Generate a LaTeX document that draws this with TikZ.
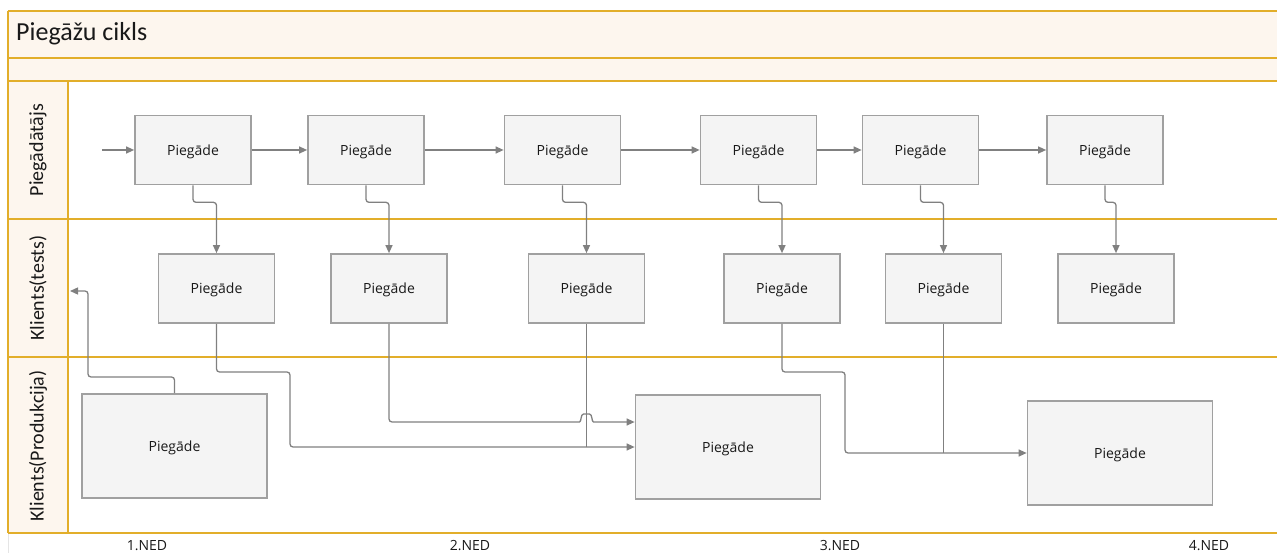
\documentclass[tikz,border=0pt]{standalone}
\usepackage{fontspec}
\newfontfamily\boxfont{Open Sans}
\newfontfamily\lanefont{Carlito}
\usetikzlibrary{arrows.meta,calc}
\definecolor{lanegold}{RGB}{226,174,42}
\definecolor{lanecream}{RGB}{253,246,238}
\definecolor{boxfill}{RGB}{244,244,244}
\definecolor{boxline}{RGB}{160,160,160}
\definecolor{connline}{RGB}{128,128,128}
\tikzset{
 proc/.style={draw=boxline, fill=boxfill, line width=1.7pt, minimum width=116pt, minimum height=69pt, inner sep=0pt, text depth=0pt, font=\boxfont\fontsize{14}{16}\selectfont, text=black!90},
 bigproc/.style={proc, minimum width=185pt, minimum height=104pt},
 conn/.style={draw=connline, line width=1.3pt, rounded corners=3pt},
 arr/.style={conn, -{Triangle[length=8pt,width=7pt]}},
 lanelbl/.style={rotate=90, font=\lanefont\fontsize{20}{22}\selectfont, text=black!90},
 nedlbl/.style={anchor=base, font=\boxfont\fontsize{14}{16}\selectfont, text=black!90},
 laneline/.style={draw=lanegold, line width=1.8pt},
 thinline/.style={draw=lanegold, line width=1.4pt},
}
\begin{document}
\begin{tikzpicture}[x=1pt,y=-1pt]
\useasboundingbox (0,0) rectangle (1277,553);
% swimlane frame
\fill[lanecream] (8,11) rectangle (1277,81);
\fill[lanecream] (8,81) rectangle (68,533);
\draw[thinline] (1277,11) -- (8,11);
\draw[thinline] (8,58) -- (1277,58);
\draw[laneline] (8,81) -- (1277,81);
\draw[laneline] (8,11) -- (8,533);
\draw[laneline] (68,81) -- (68,533);
\draw[laneline] (8,219) -- (1277,219);
\draw[laneline] (8,357) -- (1277,357);
\draw[laneline] (8,533) -- (1277,533);
\draw[draw=black!10, line width=0.8pt] (8,534) -- (8,553);
% title and lane labels
\node[anchor=base west, font=\lanefont\fontsize{26}{28}\selectfont, text=black!90, inner sep=0pt] (title) at (16,41) {Piegāžu cikls};
\node[lanelbl] (l1) at (38,150) {Piegādātājs};
\node[lanelbl] (l2) at (38,288) {Klients(tests)};
\node[lanelbl] (l3) at (38,446) {Klients(Produkcija)};
% row 1
\node[proc] (B1) at (193,150) {Piegāde};
\node[proc] (B2) at (366,150) {Piegāde};
\node[proc] (B3) at (562.5,150) {Piegāde};
\node[proc] (B4) at (758.5,150) {Piegāde};
\node[proc] (B5) at (920.5,150) {Piegāde};
\node[proc] (B6) at (1105,150) {Piegāde};
% row 2
\node[proc] (C1) at (216.5,288.5) {Piegāde};
\node[proc] (C2) at (389,288.5) {Piegāde};
\node[proc] (C3) at (586.5,288.5) {Piegāde};
\node[proc] (C4) at (782,288.5) {Piegāde};
\node[proc] (C5) at (943.5,288.5) {Piegāde};
\node[proc] (C6) at (1116,288.5) {Piegāde};
% row 3
\node[bigproc] (D1) at (174.5,446) {Piegāde};
\node[bigproc] (D2) at (728,447) {Piegāde};
\node[bigproc] (D3) at (1120,453) {Piegāde};
% week labels
\node[nedlbl] (n1) at (147,550.5) {1.NED};
\node[nedlbl] (n2) at (470,550.5) {2.NED};
\node[nedlbl] (n3) at (840,550.5) {3.NED};
\node[nedlbl] (n4) at (1209,550.5) {4.NED};
% row 1 flow
\coordinate (s0) at (102,150);
\draw[arr] (s0) -- (B1.west);
\draw[arr] (B1.east) -- (B2.west);
\draw[arr] (B2.east) -- (B3.west);
\draw[arr] (B3.east) -- (B4.west);
\draw[arr] (B4.east) -- (B5.west);
\draw[arr] (B5.east) -- (B6.west);
% row 1 -> row 2
\draw[arr] (B1.south) -- ++(0,17) -| (C1.north);
\draw[arr] (B2.south) -- ++(0,17) -| (C2.north);
\draw[arr] (B3.south) -- ++(0,17) -| (C3.north);
\draw[arr] (B4.south) -- ++(0,17) -| (C4.north);
\draw[arr] (B5.south) -- ++(0,17) -| (C5.north);
\draw[arr] (B6.south) -- ++(0,17) -| (C6.north);
% row 2 -> row 3
\coordinate (j1) at (290,372);
\draw[arr] (C1.south) |- (j1) |- (D2.west);
\coordinate (h1) at (586.5,422);
\draw[arr] (C2.south) |- ([xshift=-10pt]h1)
  .. controls ([xshift=-5pt]h1) and ([xshift=-6pt,yshift=8pt]h1) .. ([yshift=8pt]h1)
  .. controls ([xshift=6pt,yshift=8pt]h1) and ([xshift=5pt]h1) .. ([xshift=10pt]h1)
  -- ([yshift=25pt]D2.west);
\draw[conn] (C3.south) -- (C3.south |- D2.west);
\coordinate (j3) at (845,372);
\draw[arr] (C4.south) |- (j3) |- (D3.west);
\draw[conn] (C5.south) -- (C5.south |- D3.west);
% row 3 -> lane 2 (back)
\coordinate (j2) at (88,377);
\coordinate (e1) at (70,291);
\draw[arr] (D1.north) |- (j2) |- (e1);
\end{tikzpicture}
\end{document}
